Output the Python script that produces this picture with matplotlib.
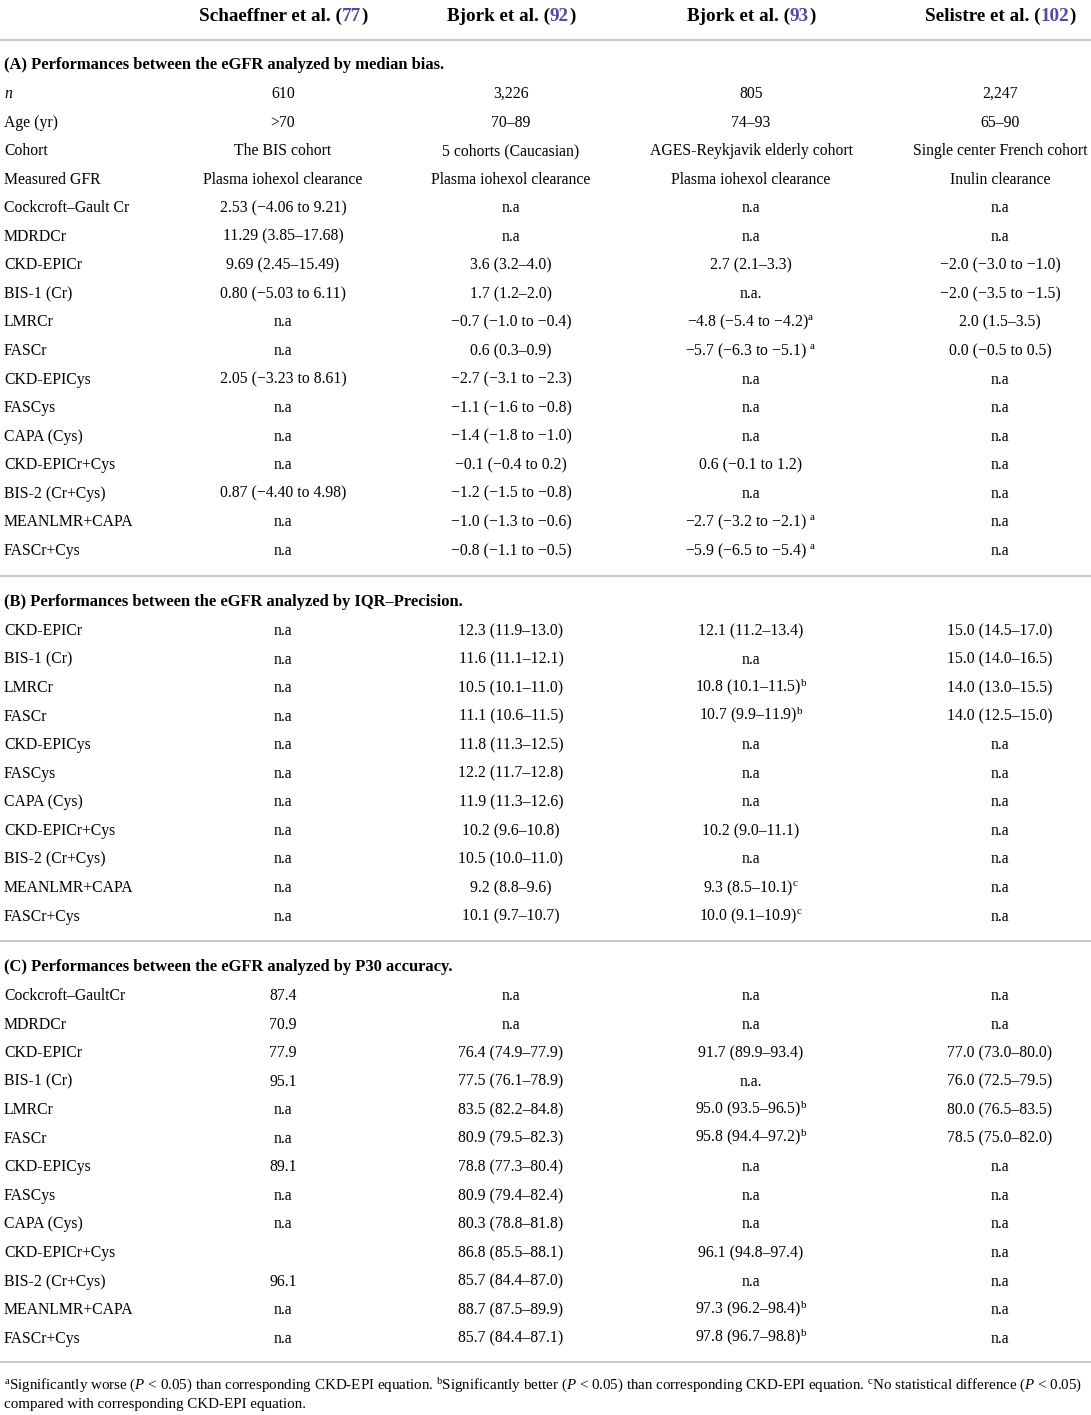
import matplotlib
matplotlib.use("Agg")
import matplotlib.pyplot as plt
from matplotlib.lines import Line2D

plt.rcParams['font.family'] = ['Liberation Serif', 'DejaVu Serif']
plt.rcParams['mathtext.fontset'] = 'custom'
plt.rcParams['mathtext.rm'] = 'Liberation Serif'
plt.rcParams['mathtext.it'] = 'Liberation Serif:italic'
plt.rcParams['mathtext.bf'] = 'Liberation Serif:bold'

NA = "n.a"

# column headers: (author text, reference number)
studies = [("Schaeffner et al. (", "77"), ("Bjork et al. (", "92"),
           ("Bjork et al. (", "93"), ("Selistre et al. (", "102")]

# (A) median bias
title_a = "(A) Performances between the eGFR analyzed by median bias."
labels_a = ["$n$", "Age (yr)", "Cohort", "Measured GFR", "Cockcroft–Gault Cr", "MDRDCr",
            "CKD-EPICr", "BIS-1 (Cr)", "LMRCr", "FASCr", "CKD-EPICys", "FASCys",
            "CAPA (Cys)", "CKD-EPICr+Cys", "BIS-2 (Cr+Cys)", "MEANLMR+CAPA", "FASCr+Cys"]
schaeffner_a = ["610", ">70", "The BIS cohort", "Plasma iohexol clearance",
                "2.53 (−4.06 to 9.21)", "11.29 (3.85–17.68)", "9.69 (2.45–15.49)",
                "0.80 (−5.03 to 6.11)", NA, NA, "2.05 (−3.23 to 8.61)", NA, NA, NA,
                "0.87 (−4.40 to 4.98)", NA, NA]
bjork92_a = ["3,226", "70–89", "5 cohorts (Caucasian)", "Plasma iohexol clearance", NA, NA,
             "3.6 (3.2–4.0)", "1.7 (1.2–2.0)", "−0.7 (−1.0 to −0.4)", "0.6 (0.3–0.9)",
             "−2.7 (−3.1 to −2.3)", "−1.1 (−1.6 to −0.8)", "−1.4 (−1.8 to −1.0)",
             "−0.1 (−0.4 to 0.2)", "−1.2 (−1.5 to −0.8)", "−1.0 (−1.3 to −0.6)",
             "−0.8 (−1.1 to −0.5)"]
bjork93_a = ["805", "74–93", "AGES-Reykjavik elderly cohort", "Plasma iohexol clearance", NA, NA,
             "2.7 (2.1–3.3)", "n.a.", "−4.8 (−5.4 to −4.2)$^{\\rm a}$",
             "−5.7 (−6.3 to −5.1) $^{\\rm a}$", NA, NA, NA, "0.6 (−0.1 to 1.2)", NA,
             "−2.7 (−3.2 to −2.1) $^{\\rm a}$", "−5.9 (−6.5 to −5.4) $^{\\rm a}$"]
selistre_a = ["2,247", "65–90", "Single center French cohort", "Inulin clearance", NA, NA,
              "−2.0 (−3.0 to −1.0)", "−2.0 (−3.5 to −1.5)", "2.0 (1.5–3.5)",
              "0.0 (−0.5 to 0.5)", NA, NA, NA, NA, NA, NA, NA]

# (B) IQR precision
title_b = "(B) Performances between the eGFR analyzed by IQR–Precision."
labels_b = ["CKD-EPICr", "BIS-1 (Cr)", "LMRCr", "FASCr", "CKD-EPICys", "FASCys", "CAPA (Cys)",
            "CKD-EPICr+Cys", "BIS-2 (Cr+Cys)", "MEANLMR+CAPA", "FASCr+Cys"]
schaeffner_b = [NA] * 11
bjork92_b = ["12.3 (11.9–13.0)", "11.6 (11.1–12.1)", "10.5 (10.1–11.0)", "11.1 (10.6–11.5)",
             "11.8 (11.3–12.5)", "12.2 (11.7–12.8)", "11.9 (11.3–12.6)", "10.2 (9.6–10.8)",
             "10.5 (10.0–11.0)", "9.2 (8.8–9.6)", "10.1 (9.7–10.7)"]
bjork93_b = ["12.1 (11.2–13.4)", NA, "10.8 (10.1–11.5)$^{\\rm b}$", "10.7 (9.9–11.9)$^{\\rm b}$",
             NA, NA, NA, "10.2 (9.0–11.1)", NA, "9.3 (8.5–10.1)$^{\\rm c}$",
             "10.0 (9.1–10.9)$^{\\rm c}$"]
selistre_b = ["15.0 (14.5–17.0)", "15.0 (14.0–16.5)", "14.0 (13.0–15.5)", "14.0 (12.5–15.0)",
              NA, NA, NA, NA, NA, NA, NA]

# (C) P30 accuracy
title_c = "(C) Performances between the eGFR analyzed by P30 accuracy."
labels_c = ["Cockcroft–GaultCr", "MDRDCr", "CKD-EPICr", "BIS-1 (Cr)", "LMRCr", "FASCr",
            "CKD-EPICys", "FASCys", "CAPA (Cys)", "CKD-EPICr+Cys", "BIS-2 (Cr+Cys)",
            "MEANLMR+CAPA", "FASCr+Cys"]
schaeffner_c = ["87.4", "70.9", "77.9", "95.1", NA, NA, "89.1", NA, NA, "", "96.1", NA, NA]
bjork92_c = [NA, NA, "76.4 (74.9–77.9)", "77.5 (76.1–78.9)", "83.5 (82.2–84.8)",
             "80.9 (79.5–82.3)", "78.8 (77.3–80.4)", "80.9 (79.4–82.4)", "80.3 (78.8–81.8)",
             "86.8 (85.5–88.1)", "85.7 (84.4–87.0)", "88.7 (87.5–89.9)", "85.7 (84.4–87.1)"]
bjork93_c = [NA, NA, "91.7 (89.9–93.4)", "n.a.", "95.0 (93.5–96.5)$^{\\rm b}$",
             "95.8 (94.4–97.2)$^{\\rm b}$", NA, NA, NA, "96.1 (94.8–97.4)", NA,
             "97.3 (96.2–98.4)$^{\\rm b}$", "97.8 (96.7–98.8)$^{\\rm b}$"]
selistre_c = [NA, NA, "77.0 (73.0–80.0)", "76.0 (72.5–79.5)", "80.0 (76.5–83.5)",
              "78.5 (75.0–82.0)", NA, NA, NA, NA, NA, NA, NA]

footnote_1 = ("$^{\\rm a}$Significantly worse ($P$ < 0.05) than corresponding CKD-EPI equation. "
              "$^{\\rm b}$Significantly better ($P$ < 0.05) than corresponding CKD-EPI equation. "
              "$^{\\rm c}$No statistical difference ($P$ < 0.05)")
footnote_2 = "compared with corresponding CKD-EPI equation."

W, H = 1091, 1415
fig = plt.figure(figsize=(W / 100, H / 100), dpi=100)
fig.patch.set_facecolor("white")


def X(px):
    return px / W


def Y(py):
    return 1 - py / H


col_x = [283, 511, 751, 1000]
body_size = 11.3
title_size = 11.9
ref_color = "#5249a3"
rule_color = "#c4c4c4"
row_step = 28.56


def hline(py):
    fig.add_artist(Line2D([0, 1], [Y(py), Y(py)], color=rule_color, lw=1.3,
                          transform=fig.transFigure))


# header with coloured reference numbers
renderer = fig.canvas.get_renderer()
for cx, (name, ref) in zip(col_x, studies):
    parts = [(name, "black"), (ref, ref_color), (")", "black")]
    texts = []
    for s, c in parts:
        t = fig.text(0, Y(21), s, color=c, fontsize=13.8, fontweight="bold",
                     ha="left", va="baseline")
        texts.append(t)
    widths = [t.get_window_extent(renderer).width for t in texts]
    x0 = cx - sum(widths) / 2
    for t, w in zip(texts, widths):
        t.set_x(X(x0))
        x0 += w

hline(40)


def section(title, ty, labels, cols):
    # ty: baseline of the section title
    fig.text(X(4), Y(ty), title, fontsize=title_size, fontweight="bold",
             ha="left", va="baseline")
    y0 = ty + 29
    for i, lab in enumerate(labels):
        py = y0 + i * row_step
        fig.text(X(4), Y(py), lab, fontsize=body_size, ha="left", va="baseline")
        for cx, col in zip(col_x, cols):
            if col[i]:
                fig.text(X(cx), Y(py), col[i], fontsize=body_size, ha="center", va="baseline")


section(title_a, 69, labels_a, [schaeffner_a, bjork92_a, bjork93_a, selistre_a])
hline(576)
section(title_b, 606, labels_b, [schaeffner_b, bjork92_b, bjork93_b, selistre_b])
hline(941)
section(title_c, 971, labels_c, [schaeffner_c, bjork92_c, bjork93_c, selistre_c])
hline(1362)

fig.text(X(4), Y(1390), footnote_1, fontsize=10.85, ha="left", va="baseline")
fig.text(X(4), Y(1408), footnote_2, fontsize=10.85, ha="left", va="baseline")

fig.savefig("out.png", dpi=100, facecolor="white")
